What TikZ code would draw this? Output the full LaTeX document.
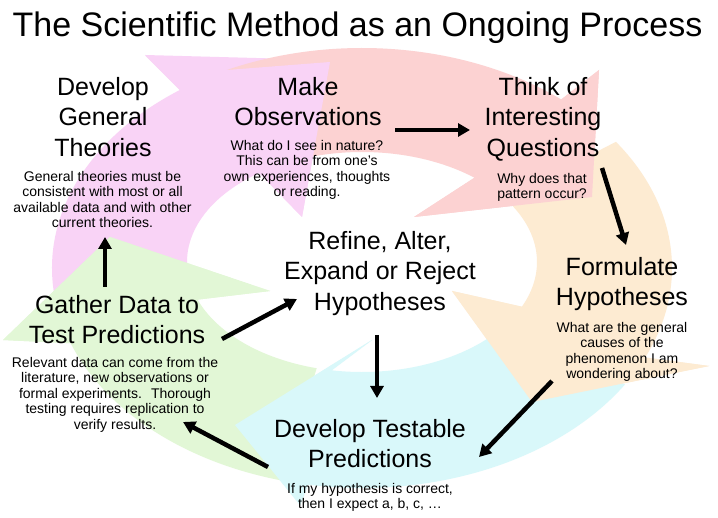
\documentclass[tikz,border=0pt]{standalone}
\usepackage{fontspec}
\setmainfont{Liberation Sans}
\usetikzlibrary{arrows.meta,calc}
\definecolor{cpink}{HTML}{F9D3F6}
\definecolor{cred}{HTML}{FCD2D2}
\definecolor{cpeach}{HTML}{FDEBD2}
\definecolor{ccyan}{HTML}{D9F8FA}
\definecolor{cgreen}{HTML}{E2F7D6}
\tikzset{
  heading/.style={font=\fontsize{25}{30.5}\selectfont, align=center, inner sep=0pt, anchor=north},
  desc/.style={font=\fontsize{14}{15.6}\selectfont, align=center, inner sep=0pt, anchor=north},
  flow/.style={line width=4.5pt, -{Triangle[length=12pt,width=13pt]}},
}
\newcommand{\cyclearrow}[6]{%
  % #1 colour, #2 tail angle, #3 base angle, #4 outer barb, #5 apex, #6 inner barb
  \fill[#1] ($(C)+(#2:310 and 220)$) arc[start angle=#2, end angle=#3, x radius=310, y radius=220]
    -- #4 -- #5 -- #6 -- ($(Ci)+(#3:175 and 110)$)
    arc[start angle=#3, end angle=#2, x radius=175, y radius=110] -- cycle;}
\newcommand{\cyclehead}[5]{%
  \fill[#1] ($(C)+(#2:310 and 220)$) -- #3 -- #4 -- #5 -- ($(Ci)+(#2:175 and 110)$) -- cycle;}
\begin{document}
\begin{tikzpicture}[x=1pt,y=-1pt]
\useasboundingbox (0,0) rectangle (718,518);
\fill[white] (0,0) rectangle (718,518);
\coordinate (C) at (362,268);
\coordinate (Ci) at (362,262);
% background cycle: bodies
\cyclearrow{cpink}{170}{234}{(145,55)}{(330,60)}{(302,217)}
\cyclearrow{cred}{244}{310}{(599,70)}{(592,197)}{(414,217)}
\cyclearrow{cpeach}{325}{384}{(709,366)}{(532,402)}{(452,291)}
\cyclearrow{ccyan}{32}{100}{(300,505)}{(235,425)}{(372,340)}
\cyclearrow{cgreen}{105}{160}{(3,340)}{(110,237)}{(270,291)}
% heads on top
\cyclehead{cpink}{234}{(145,55)}{(227,70) -- (330,62)}{(302,217)}
\cyclehead{cred}{310}{(599,70)}{(592,197)}{(414,217)}
\cyclehead{cpeach}{384}{(709,366)}{(532,402)}{(452,291)}
\cyclehead{ccyan}{100}{(300,505)}{(235,425)}{(372,340)}
\cyclehead{cgreen}{160}{(3,340)}{(110,237)}{(270,291)}
% title
\node[font=\fontsize{34}{40}\selectfont, anchor=base, inner sep=0pt] (title) at (357.5,37) {The Scientific Method as an Ongoing Process};
% texts
\node[heading] (theoH) at (103,76.7) {Develop\\General\\Theories};
\node[desc] (theoD) at (102.5,170.8) {General theories must be\\consistent with most or all\\available data and with other\\current theories.};
\node[heading] (obsH) at (308,76.7) {Make\\Observations};
\node[desc] (obsD) at (307,139.8) {What do I see in nature?\\This can be from one's\\own experiences, thoughts\\or reading.};
\node[heading] (quesH) at (543,76.7) {Think of\\Interesting\\Questions};
\node[desc] (quesD) at (542,172.8) {Why does that\\pattern occur?};
\node[heading] (hypH) at (622,256.7) {Formulate\\Hypotheses};
\node[desc] (hypD) at (622,321.8) {What are the general\\causes of the\\phenomenon I am\\wondering about?};
\node[heading] (predH) at (370,418.7) {Develop Testable\\Predictions};
\node[desc] (predD) at (370,482.8) {If my hypothesis is correct,\\then I expect a, b, c, …};
\node[heading] (gathH) at (117,294.7) {Gather Data to\\Test Predictions};
\node[desc] (gathD) at (115,356.8) {Relevant data can come from the\\literature, new observations or\\formal experiments.~ Thorough\\testing requires replication to\\verify results.};
\node[heading] (refH) at (380,230.7) {Refine, Alter,\\Expand or Reject\\Hypotheses};
% connector end points
\coordinate (a1) at (395,130); \coordinate (a2) at (470,130);
\coordinate (b1) at (602,168); \coordinate (b2) at (626,245);
\coordinate (c1) at (552,381); \coordinate (c2) at (479,457);
\coordinate (d1) at (268,467); \coordinate (d2) at (183,422);
\coordinate (e1) at (105,287); \coordinate (e2) at (105,237);
\coordinate (f1) at (222,339); \coordinate (f2) at (297,299);
\coordinate (g1) at (377,335); \coordinate (g2) at (377,398);
\draw[flow] (a1) -- (a2);
\draw[flow] (b1) -- (b2);
\draw[flow] (c1) -- (c2);
\draw[flow] (d1) -- (d2);
\draw[flow] (e1) -- (e2);
\draw[flow] (f1) -- (f2);
\draw[flow] (g1) -- (g2);
\end{tikzpicture}
\end{document}
